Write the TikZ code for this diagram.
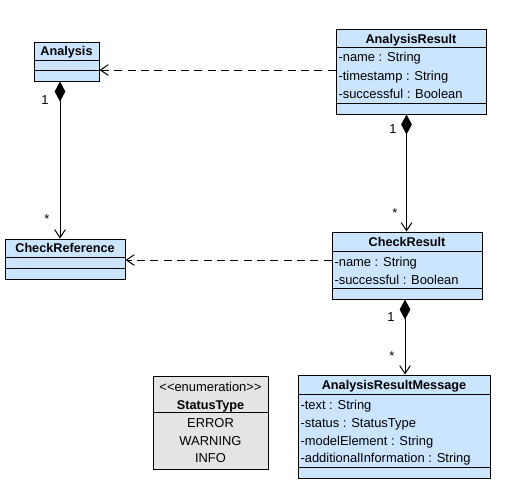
\documentclass[tikz,border=0pt]{standalone}
\usepackage{fontspec}
\setmainfont{Liberation Sans}
\usetikzlibrary{arrows.meta,fit}
\definecolor{clsblue}{RGB}{204,229,255}
\definecolor{enumgrey}{RGB}{228,228,228}
\begin{document}
\begin{tikzpicture}[x=0.75pt,y=-0.75pt,
  font=\fontsize{9.7}{11}\selectfont, line width=0.75pt,
  clsbox/.style={draw, fill=clsblue, inner sep=0pt},
  enumbox/.style={draw, fill=enumgrey, inner sep=0pt},
  ttl/.style={font=\fontsize{9.5}{11}\selectfont\bfseries, inner sep=0pt, anchor=center, text height=8.8pt, text depth=2pt},
  attr/.style={inner sep=0pt, anchor=west, text height=8.8pt, text depth=2pt},
  lit/.style={inner sep=0pt, anchor=center, text height=8.8pt, text depth=2pt},
  mult/.style={inner sep=0pt, anchor=center},
  comp/.style={{Diamond[length=15pt,width=8pt]}-{Straight Barb[length=6pt,width=8pt]}},
  dep/.style={dash pattern=on 6pt off 4pt, -{Straight Barb[length=6pt,width=8pt]}}]
\useasboundingbox (0,0) rectangle (516,490);

% Analysis
\node[clsbox, fit={(34,42) (99,81)}] (an) {};
\draw (34,60) -- (99,60) (34,70) -- (99,70);
\node[ttl] (antitle) at (66.5,51) {Analysis};

% AnalysisResult
\node[clsbox, fit={(336,29) (486,114)}] (ar) {};
\draw (336,47) -- (486,47) (336,103) -- (486,103);
\node[ttl] (artitle) at (411,38.5) {AnalysisResult};
\node[attr] (ar1) at (338,56.5) {-name : String};
\node[attr] (ar2) at (338,75.5) {-timestamp : String};
\node[attr] (ar3) at (338,94) {-successful : Boolean};

% CheckReference
\node[clsbox, fit={(5,239) (125,279)}] (cref) {};
\draw (5,257) -- (125,257) (5,268) -- (125,268);
\node[ttl] (creftitle) at (65,248) {CheckReference};

% CheckResult
\node[clsbox, fit={(332,232) (482,299)}] (cres) {};
\draw (332,251) -- (482,251) (332,288) -- (482,288);
\node[ttl] (crestitle) at (407,241.5) {CheckResult};
\node[attr] (cr1) at (334,261.5) {-name : String};
\node[attr] (cr2) at (334,279.5) {-successful : Boolean};

% AnalysisResultMessage
\node[clsbox, fit={(298,375) (490,478)}] (arm) {};
\draw (298,394) -- (490,394) (298,467) -- (490,467);
\node[ttl] (armtitle) at (394,384.5) {AnalysisResultMessage};
\node[attr] (arm1) at (300,405) {-text : String};
\node[attr] (arm2) at (300,423) {-status : StatusType};
\node[attr] (arm3) at (300,440.5) {-modelElement : String};
\node[attr] (arm4) at (300,458) {-additionalInformation : String};

% StatusType enumeration
\node[enumbox, fit={(153,376) (268,469)}] (st) {};
\draw (153,412) -- (268,412);
\node[lit] (ststereo) at (210.5,387) {<{}<enumeration>{}>};
\node[ttl] (sttitle) at (210.5,404.5) {StatusType};
\node[lit] (st1) at (210.5,423) {ERROR};
\node[lit] (st2) at (210.5,440.5) {WARNING};
\node[lit] (st3) at (210.5,458) {INFO};

% helper coordinates
\coordinate (colA) at (60,0);
\coordinate (colB) at (406.5,0);
\coordinate (colC) at (405,0);
\coordinate (rowA) at (0,70);
\coordinate (rowB) at (0,260);

% connectors
\draw[comp] (colA |- an.south) -- (colA |- cref.north);
\draw[comp] (colB |- ar.south) -- (colB |- cres.north);
\draw[comp] (colC |- cres.south) -- (colC |- arm.north);
\draw[dep] (rowA -| ar.west) -- (rowA -| an.east);
\draw[dep] (rowB -| cres.west) -- (rowB -| cref.east);

% multiplicities
\node[mult] (m1) at (45,100) {1};
\node[mult] (m2) at (47,219) {*};
\node[mult] (m3) at (393,129) {1};
\node[mult] (m4) at (395,213) {*};
\node[mult] (m5) at (391,317) {1};
\node[mult] (m6) at (392,356) {*};
\end{tikzpicture}
\end{document}
